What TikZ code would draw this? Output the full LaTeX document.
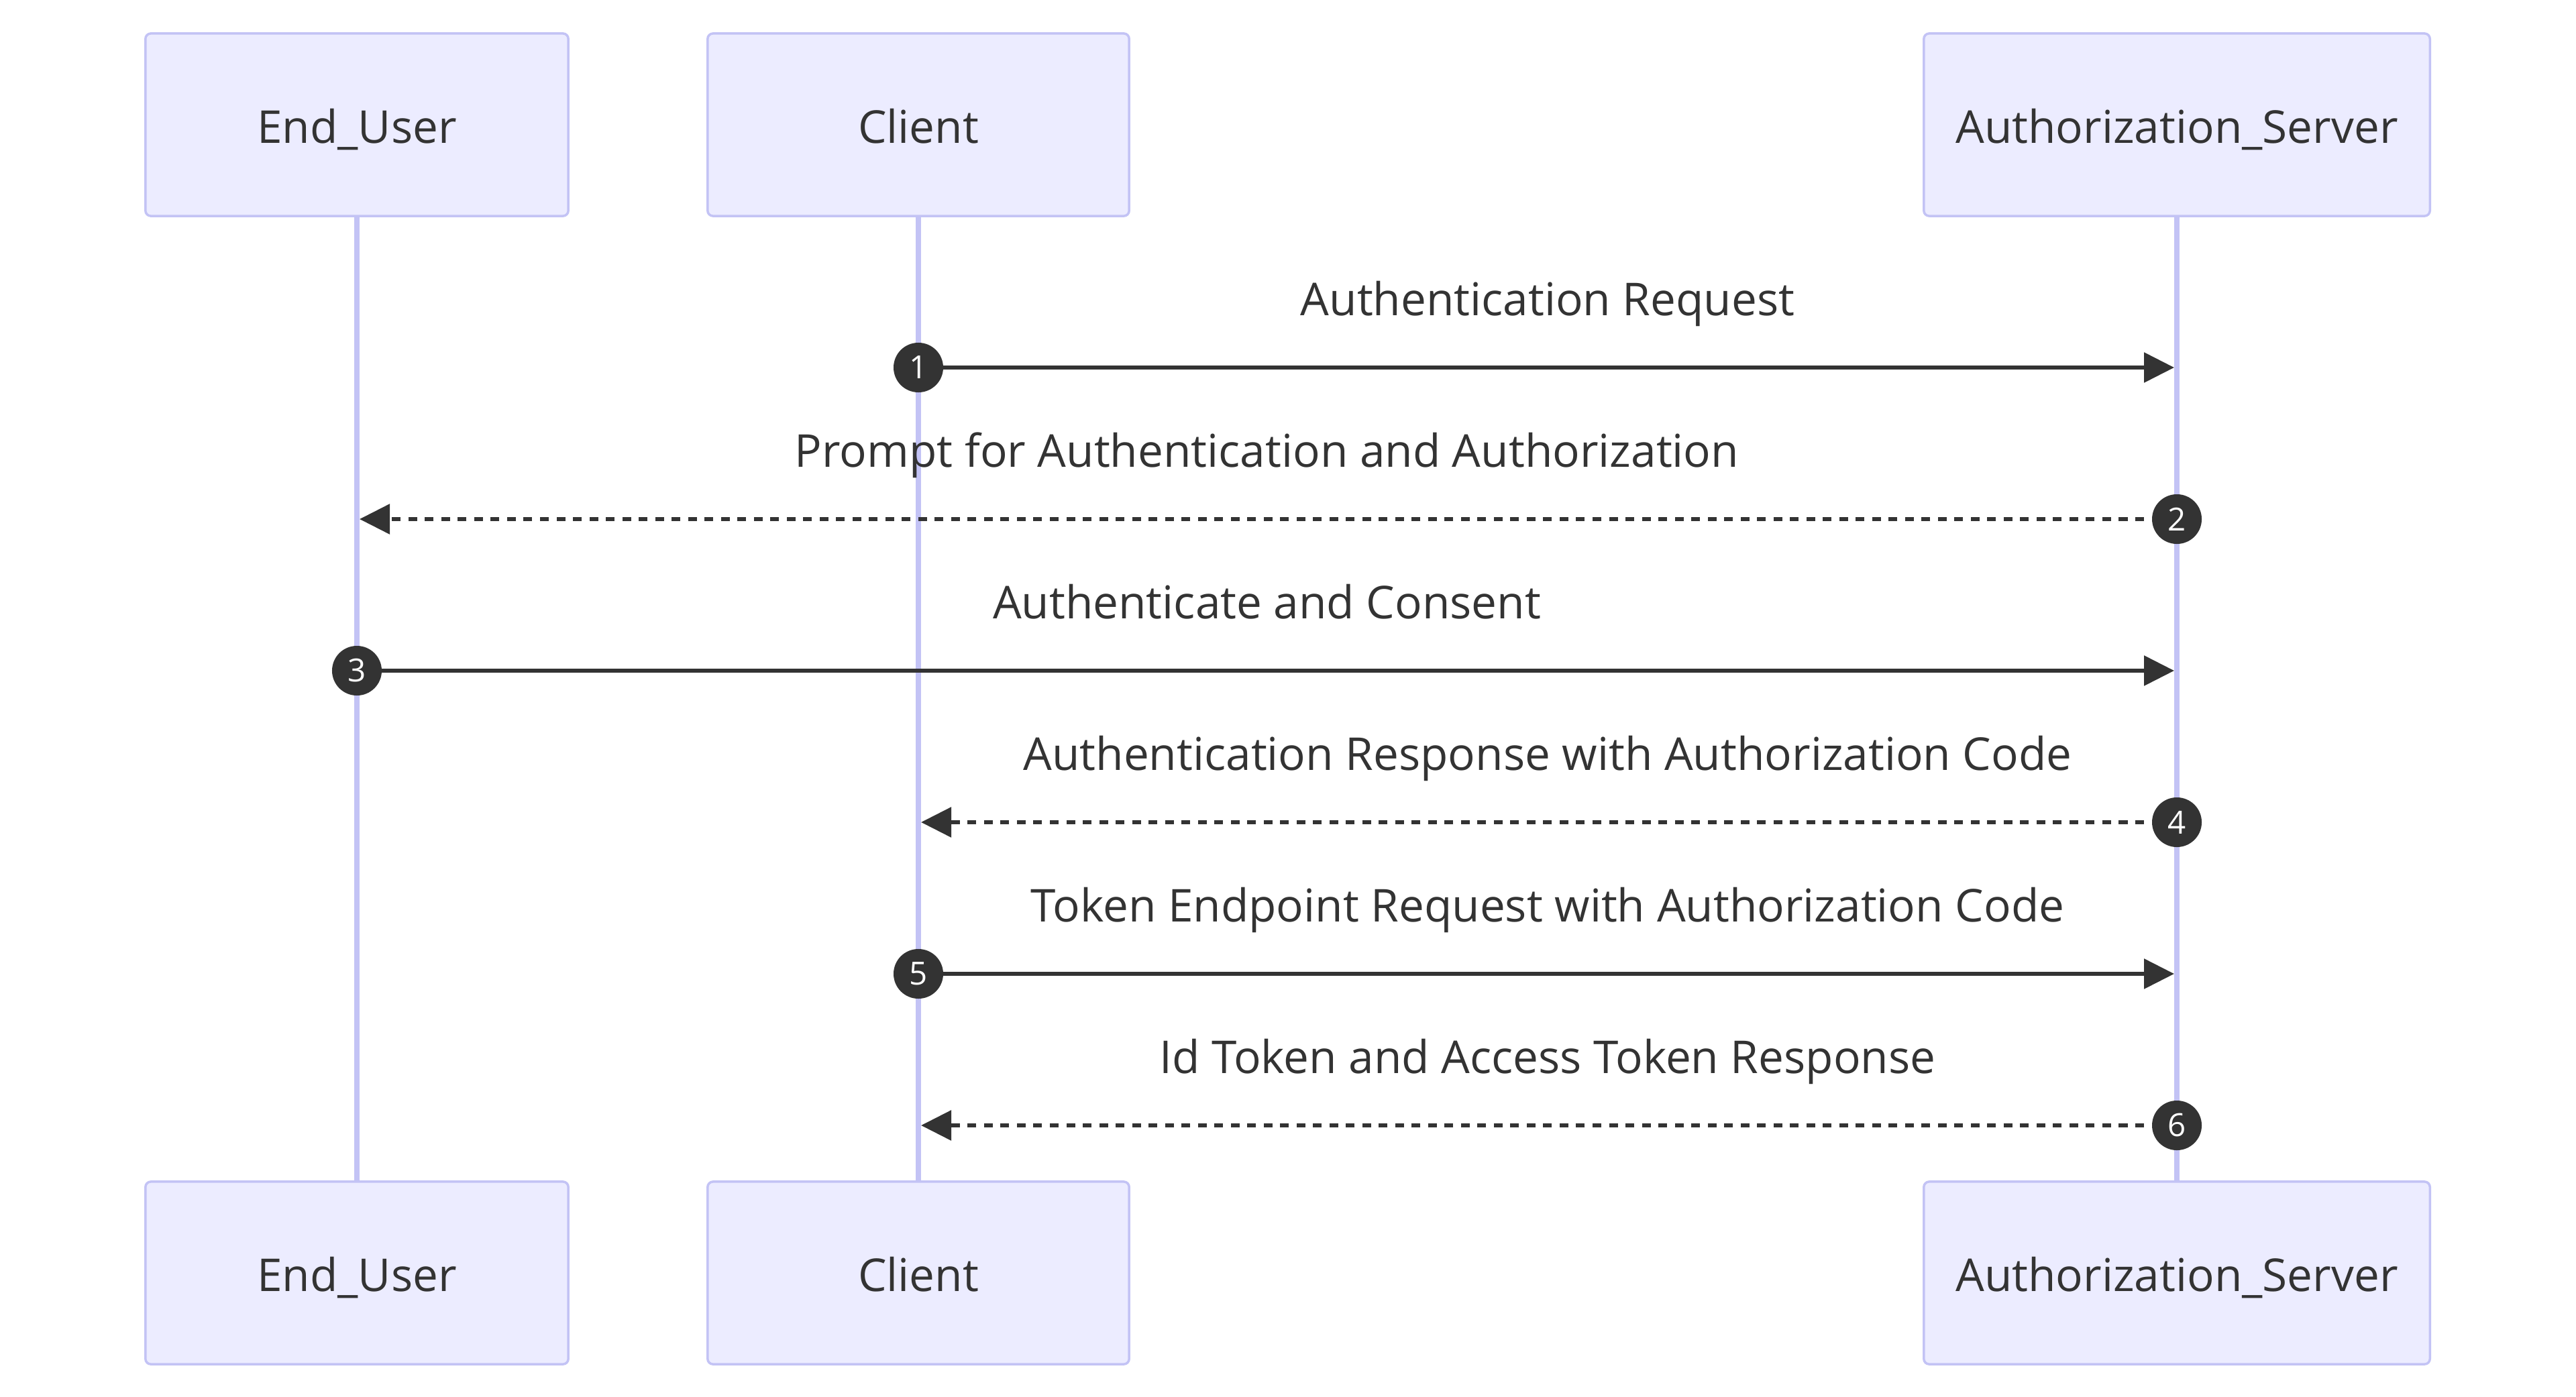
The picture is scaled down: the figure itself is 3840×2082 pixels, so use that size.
\documentclass[tikz,border=0pt]{standalone}
\usepackage{fontspec}
\setmainfont{Open Sans}
\usetikzlibrary{arrows.meta,positioning}
\definecolor{actfill}{HTML}{ECECFF}
\definecolor{actline}{RGB}{195,195,245}
\definecolor{inkcol}{HTML}{333333}

\tikzset{
  actor/.style={draw=actline, fill=actfill, line width=0.035cm,
    rounded corners=0.08cm, minimum width=#1, minimum height=2.72cm,
    inner sep=0pt, text=inkcol, font=\fontsize{19.2}{22}\selectfont,
    text height=0.55cm, text depth=0pt},
  lifeline/.style={draw=actline, line width=0.08cm},
  msg/.style={draw=inkcol, line width=0.06cm,
    -{Triangle[length=0.45cm,width=0.44cm]}, shorten >=0.04cm},
  reply/.style={msg, dash pattern=on 0.13cm off 0.115cm},
  seqnum/.style={circle, fill=inkcol, text=white, minimum size=0.74cm,
    inner sep=0pt, font=\fontsize{13.5}{16}\selectfont},
  msglabel/.style={anchor=base, text=inkcol, yshift=0.77cm,
    font=\fontsize{19.2}{22}\selectfont}
}

\begin{document}
\begin{tikzpicture}[x=0.01cm, y=-0.01cm]
\useasboundingbox (0,0) rectangle (3840,2082);

% actors, top and bottom
\node[actor=6.3cm] (user) at (532,186) {End\_User};
\node[actor=6.28cm] (client) at (1369,186) {Client};
\node[actor=7.54cm] (server) at (3245,186) {Authorization\_Server};
\node[actor=6.3cm] (user-b) at (532,1898) {End\_User};
\node[actor=6.28cm] (client-b) at (1369,1898) {Client};
\node[actor=7.54cm] (server-b) at (3245,1898) {Authorization\_Server};

% lifelines
\draw[lifeline] (user) -- (user-b);
\draw[lifeline] (client) -- (client-b);
\draw[lifeline] (server) -- (server-b);

% message rows
\coordinate (r1) at (0,548);
\coordinate (r2) at (0,774);
\coordinate (r3) at (0,1000);
\coordinate (r4) at (0,1226);
\coordinate (r5) at (0,1452);
\coordinate (r6) at (0,1678);

\coordinate (c1) at (client |- r1);  \coordinate (s1) at (server |- r1);
\coordinate (s2) at (server |- r2);  \coordinate (u2) at (user |- r2);
\coordinate (u3) at (user |- r3);    \coordinate (s3) at (server |- r3);
\coordinate (s4) at (server |- r4);  \coordinate (c4) at (client |- r4);
\coordinate (c5) at (client |- r5);  \coordinate (s5) at (server |- r5);
\coordinate (s6) at (server |- r6);  \coordinate (c6) at (client |- r6);

\draw[msg] (c1) -- (s1)
  node[msglabel, midway] (t1) {Authentication Request};
\draw[reply] (s2) -- (u2)
  node[msglabel, midway] (t2) {Prompt for Authentication and Authorization};
\draw[msg] (u3) -- (s3)
  node[msglabel, midway] (t3) {Authenticate and Consent};
\draw[reply] (s4) -- (c4)
  node[msglabel, midway] (t4) {Authentication Response with Authorization Code};
\draw[msg] (c5) -- (s5)
  node[msglabel, midway] (t5) {Token Endpoint Request with Authorization Code};
\draw[reply] (s6) -- (c6)
  node[msglabel, midway] (t6) {Id Token and Access Token Response};

% sequence numbers
\node[seqnum] (n1) at (c1) {1};
\node[seqnum] (n2) at (s2) {2};
\node[seqnum] (n3) at (u3) {3};
\node[seqnum] (n4) at (s4) {4};
\node[seqnum] (n5) at (c5) {5};
\node[seqnum] (n6) at (s6) {6};

\end{tikzpicture}
\end{document}
